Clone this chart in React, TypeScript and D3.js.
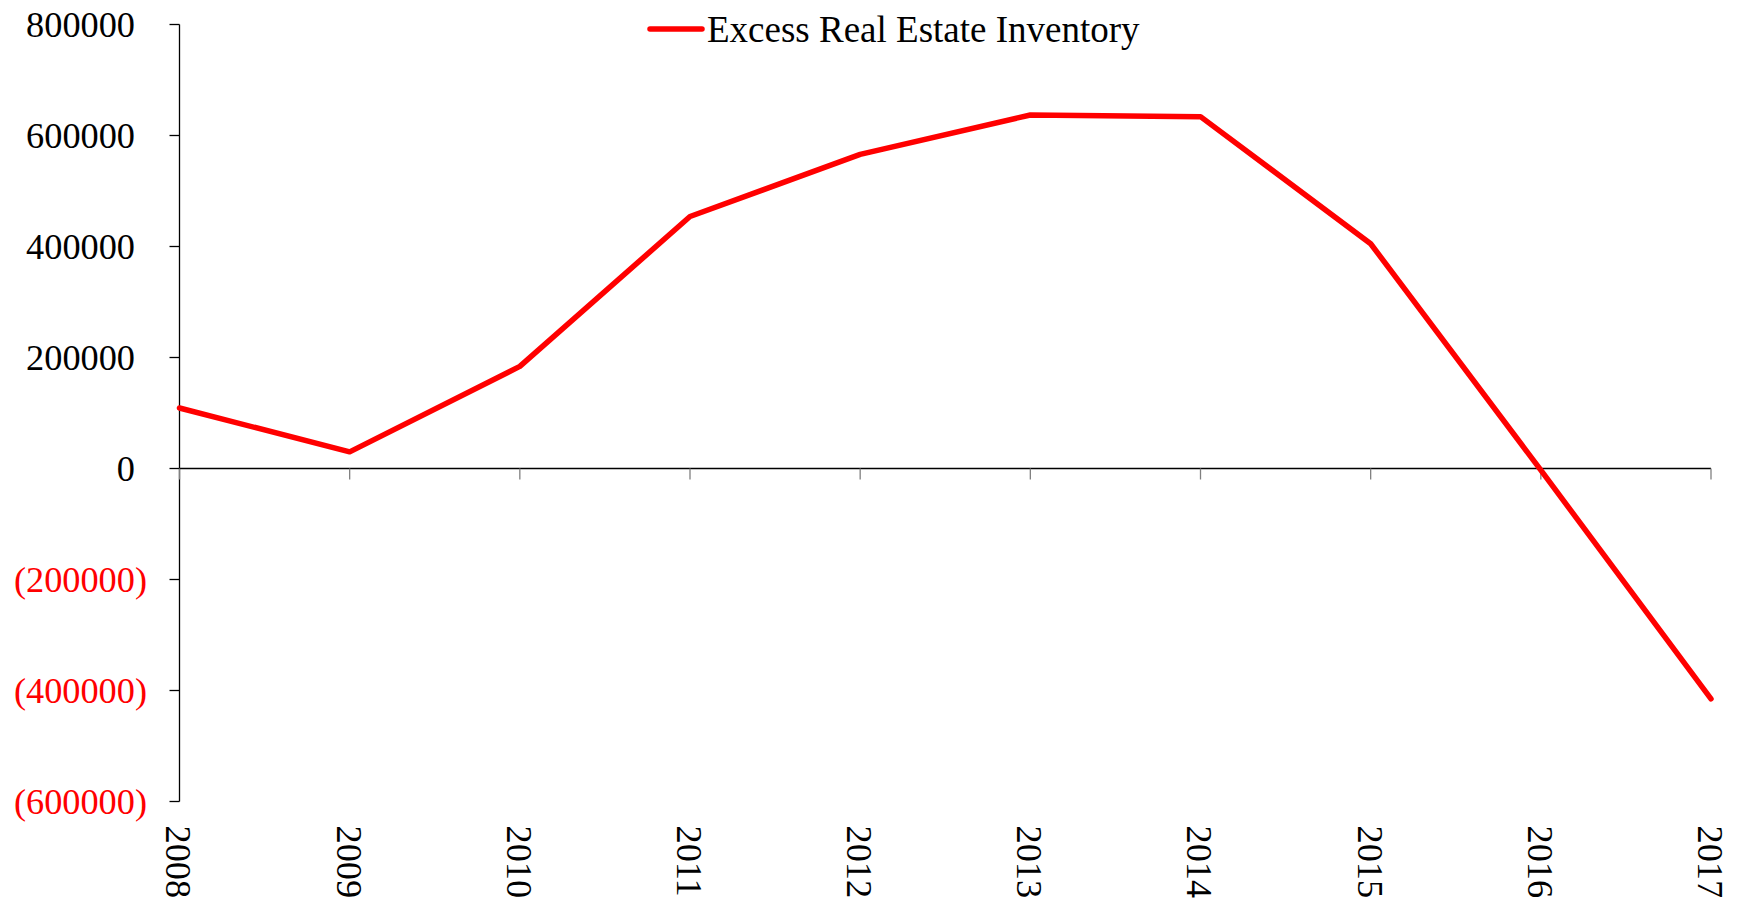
import * as d3 from "d3";

const years = ["2008", "2009", "2010", "2011", "2012", "2013", "2014", "2015", "2016", "2017"];
const inventory = [109000, 30000, 184000, 454000, 566000, 637000, 634000, 405000, -3000, -415000];
const yTicks = [800000, 600000, 400000, 200000, 0, -200000, -400000, -600000];
const seriesName = "Excess Real Estate Inventory";

export default function App() {
    const width = 1741;
    const height = 901;
    const margin = { top: 24.5, right: 30, bottom: 99.5, left: 179.5 };
    const font = "'Liberation Serif', 'Times New Roman', serif";

    const xScale = d3
        .scalePoint()
        .domain(years)
        .range([margin.left, width - margin.right]);

    const yScale = d3
        .scaleLinear()
        .domain([-600000, 800000])
        .range([height - margin.bottom, margin.top]);

    const line = d3
        .line<number>()
        .x((_, i) => xScale(years[i]) ?? 0)
        .y((d) => yScale(d));

    const fmt = (v: number) => (v < 0 ? `(${Math.abs(v)})` : `${v}`);
    const labelRight = margin.left - 32.5;

    return (
        <svg
            width={width}
            height={height}
            style={{ position: "absolute", left: 0, top: 0, background: "#fff" }}
            fontFamily={font}
        >
            {/* y axis */}
            <line
                x1={margin.left}
                x2={margin.left}
                y1={yScale(800000)}
                y2={yScale(-600000)}
                stroke="#000"
                strokeWidth={1.3}
            />
            {yTicks.map((t) => (
                <g key={t}>
                    <line
                        x1={margin.left - 10}
                        x2={margin.left}
                        y1={yScale(t)}
                        y2={yScale(t)}
                        stroke="#000"
                        strokeWidth={1.3}
                    />
                    <text
                        x={t < 0 ? labelRight : labelRight - 12}
                        y={yScale(t)}
                        dy="0.35em"
                        textAnchor="end"
                        fontSize={36.3}
                        fill={t < 0 ? "#ff0000" : "#000"}
                    >
                        {fmt(t)}
                    </text>
                </g>
            ))}

            {/* x axis at zero */}
            <line
                x1={margin.left}
                x2={xScale(years[years.length - 1]) ?? 0}
                y1={yScale(0)}
                y2={yScale(0)}
                stroke="#000"
                strokeWidth={1.3}
            />
            {years.map((yr) => {
                const x = xScale(yr) ?? 0;
                return (
                    <g key={yr}>
                        <line
                            x1={x}
                            x2={x}
                            y1={yScale(0)}
                            y2={yScale(0) + 11}
                            stroke="#808080"
                            strokeWidth={1.3}
                        />
                        <text
                            transform={`translate(${x},${height - margin.bottom + 24}) rotate(90)`}
                            dy="0.36em"
                            fontSize={36.3}
                            fill="#000"
                        >
                            {yr}
                        </text>
                    </g>
                );
            })}

            {/* series */}
            <path
                d={line(inventory) ?? ""}
                fill="none"
                stroke="#ff0000"
                strokeWidth={5.5}
                strokeLinejoin="round"
                strokeLinecap="round"
            />

            {/* legend */}
            <line x1={650} x2={702} y1={29} y2={29} stroke="#ff0000" strokeWidth={5.5} strokeLinecap="round" />
            <text x={707} y={42} fontSize={37} fill="#000">
                {seriesName}
            </text>
        </svg>
    );
}
